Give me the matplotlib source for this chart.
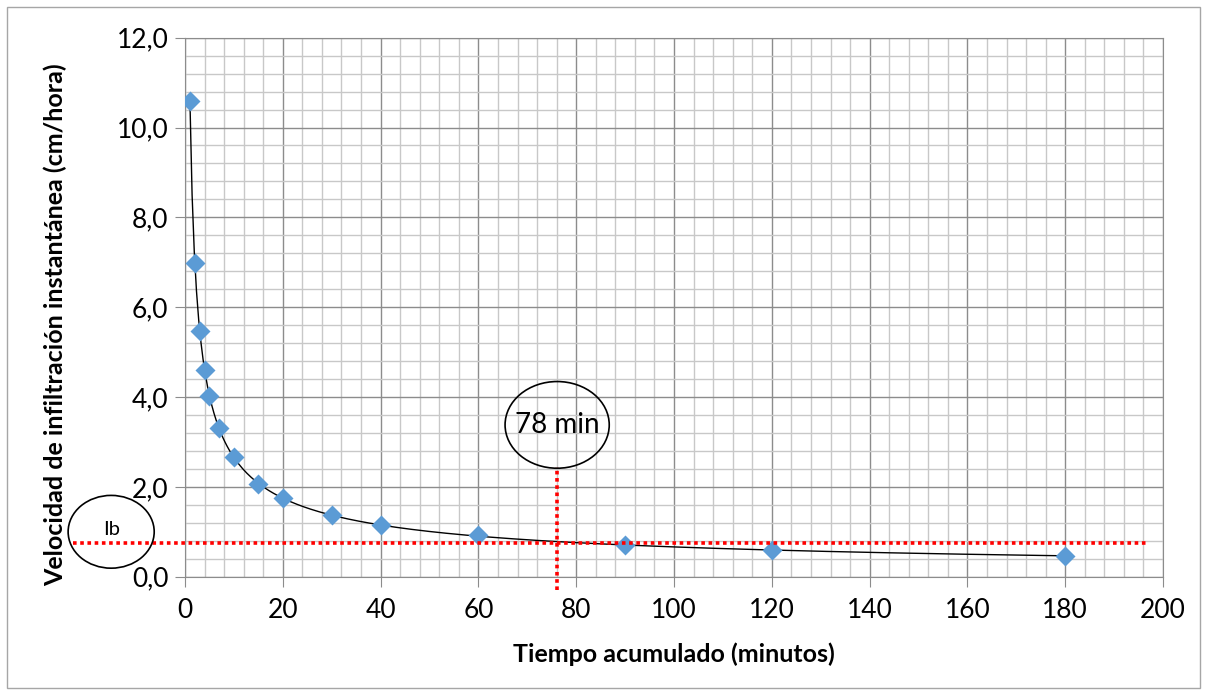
import matplotlib.pyplot as plt
from matplotlib.patches import Ellipse, Rectangle
from matplotlib.ticker import MultipleLocator, FuncFormatter
import numpy as np

plt.rcParams['font.family'] = ['Lato', 'DejaVu Sans']

# measured points
tiempo = np.array([1, 2, 3, 4, 5, 7, 10, 15, 20, 30, 40, 60, 90, 120, 180])
velocidad = np.array([10.58, 6.99, 5.47, 4.61, 4.02, 3.30, 2.67, 2.07, 1.76,
                      1.37, 1.15, 0.93, 0.70, 0.59, 0.46])

ib = 0.74        # basic infiltration
t_ib = 76        # where the trend meets Ib
t_label = '78 min'

fig = plt.figure(figsize=(12.1, 6.95), dpi=100)
fig.patches.append(Rectangle((7 / 1210, 7 / 695), 1193 / 1210, 681 / 695,
                             transform=fig.transFigure, fill=False,
                             edgecolor='#a6a6a6', lw=1))
ax = fig.add_axes([0.1529, 0.1702, 0.8083, 0.7756])

ax.set_xlim(0, 200)
ax.set_ylim(0, 12)
ax.xaxis.set_major_locator(MultipleLocator(20))
ax.xaxis.set_minor_locator(MultipleLocator(4))
ax.yaxis.set_major_locator(MultipleLocator(2))
ax.yaxis.set_minor_locator(MultipleLocator(0.4))
ax.yaxis.set_major_formatter(FuncFormatter(lambda v, p: f'{v:.1f}'.replace('.', ',')))
ax.grid(which='major', color='#8c8c8c', lw=1)
ax.grid(which='minor', color='#c8c8c8', lw=1)
ax.set_axisbelow(True)
for s in ax.spines.values():
    s.set_color('#8c8c8c')
ax.tick_params(which='major', length=7, color='#8c8c8c', labelsize=19)
ax.tick_params(axis='x', pad=8)
ax.tick_params(axis='y', pad=5)
ax.tick_params(which='minor', length=0)

# power trend line fitted to the points
b, lna = np.polyfit(np.log(tiempo), np.log(velocidad), 1)
tt = np.linspace(tiempo.min(), tiempo.max(), 400)
ax.plot(tt, np.exp(lna) * tt ** b, color='black', lw=1, zorder=3)

ax.plot(tiempo, velocidad, 'D', color='#5b9bd5', ms=10, mec='none', zorder=4)

dots = (0, (1, 1))
ax.plot([-23, 197], [ib, ib], color='red', lw=2.6, ls=dots, clip_on=False, zorder=5)
ax.plot([t_ib, t_ib], [-0.3, 2.45], color='red', lw=2.6, ls=dots, clip_on=False, zorder=5)

ax.add_patch(Ellipse((76.1, 3.38), 21.3, 1.93, fill=False, ec='black', lw=1.2,
                     clip_on=False, zorder=6))
ax.text(76.1, 3.38, t_label, ha='center', va='center', fontsize=20, zorder=7)
ax.add_patch(Ellipse((-15.1, 1.0), 17.6, 1.62, fill=False, ec='black', lw=1.2,
                     clip_on=False, zorder=6))
ax.text(-15.1, 1.05, 'Ib', ha='center', va='center', fontsize=14.5, clip_on=False)

ax.set_xlabel('Tiempo acumulado (minutos)', fontsize=18, fontweight='bold', labelpad=14)
fig.text(55 / 1210, 1 - 325 / 695, 'Velocidad de infiltración instantánea (cm/hora)',
         rotation=90, ha='center', va='center', fontsize=18, fontweight='bold')

fig.savefig('out.png', dpi=100)
